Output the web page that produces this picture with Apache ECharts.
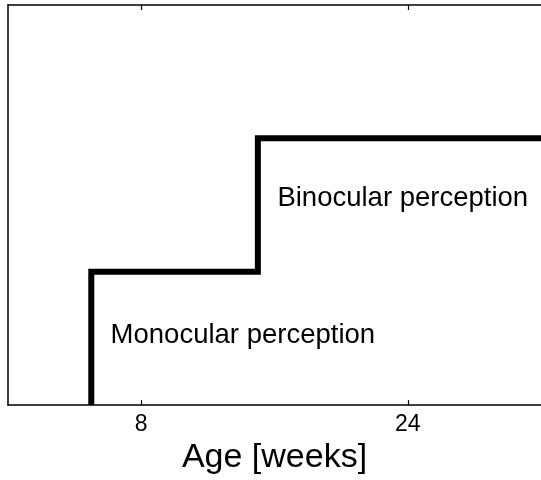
<!DOCTYPE html>
<html>
<head>
<meta charset="utf-8">
<script src="https://cdn.jsdelivr.net/npm/echarts@6/dist/echarts.min.js"></script>
<style>html,body{margin:0;padding:0;background:#fff}#c{width:541px;height:480px}</style>
</head>
<body>
<div id="c"></div>
<script>
// Data
const stepX = [5, 5, 15, 15, 32];
const stepY = [0, 1, 1, 2, 2];
const tickValues = [8, 24];
const labelNames = ['Monocular perception', 'Binocular perception'];
const labelX = [14.1, 23.7];
const labelY = [0.52, 1.55];

const FONT = 'Liberation Sans';
const chart = echarts.init(document.getElementById('c'), null, {renderer: 'canvas'});
const lineData = stepX.map((x, i) => [x, stepY[i]]);
const textData = labelNames.map((n, i) => ({value: [labelX[i], labelY[i]], name: n}));

chart.setOption({
  animation: false,
  backgroundColor: '#fff',
  grid: {left: 8, right: -3, top: 5, bottom: 68, show: false, containLabel: false},
  xAxis: [{
    type: 'value', min: 0, max: 32, position: 'bottom',
    name: 'Age [weeks]', nameLocation: 'middle', nameGap: 33,
    nameTextStyle: {fontFamily: FONT, fontSize: 34, color: '#000'},
    axisLine: {show: true, onZero: false, lineStyle: {color: '#000', width: 1.5}},
    axisTick: {show: true, inside: true, length: 5, customValues: tickValues, lineStyle: {color: '#000', width: 1.2}},
    axisLabel: {show: true, customValues: tickValues, margin: 8, fontFamily: FONT, fontSize: 23, color: '#000'},
    splitLine: {show: false}
  }, {
    type: 'value', min: 0, max: 32, position: 'top',
    axisLine: {show: true, onZero: false, lineStyle: {color: '#000', width: 1.5}},
    axisTick: {show: true, inside: true, length: 5, customValues: tickValues, lineStyle: {color: '#000', width: 1.2}},
    axisLabel: {show: false},
    splitLine: {show: false}
  }],
  yAxis: {
    type: 'value', min: 0, max: 3, position: 'left',
    axisLine: {show: true, onZero: false, lineStyle: {color: '#000', width: 1.5}},
    axisTick: {show: false}, axisLabel: {show: false}, splitLine: {show: false}
  },
  series: [{
    type: 'line', data: lineData, showSymbol: false, symbol: 'none',
    lineStyle: {color: '#000', width: 6, join: 'miter', cap: 'butt'},
    z: 3
  }, {
    type: 'scatter', data: textData, symbolSize: 0, silent: true,
    itemStyle: {opacity: 1},
    label: {show: true, position: 'inside', formatter: p => p.name, fontFamily: FONT, fontSize: 27.5, color: '#000', opacity: 1, align: 'center', verticalAlign: 'middle'}
  }]
});
</script>
</body>
</html>
